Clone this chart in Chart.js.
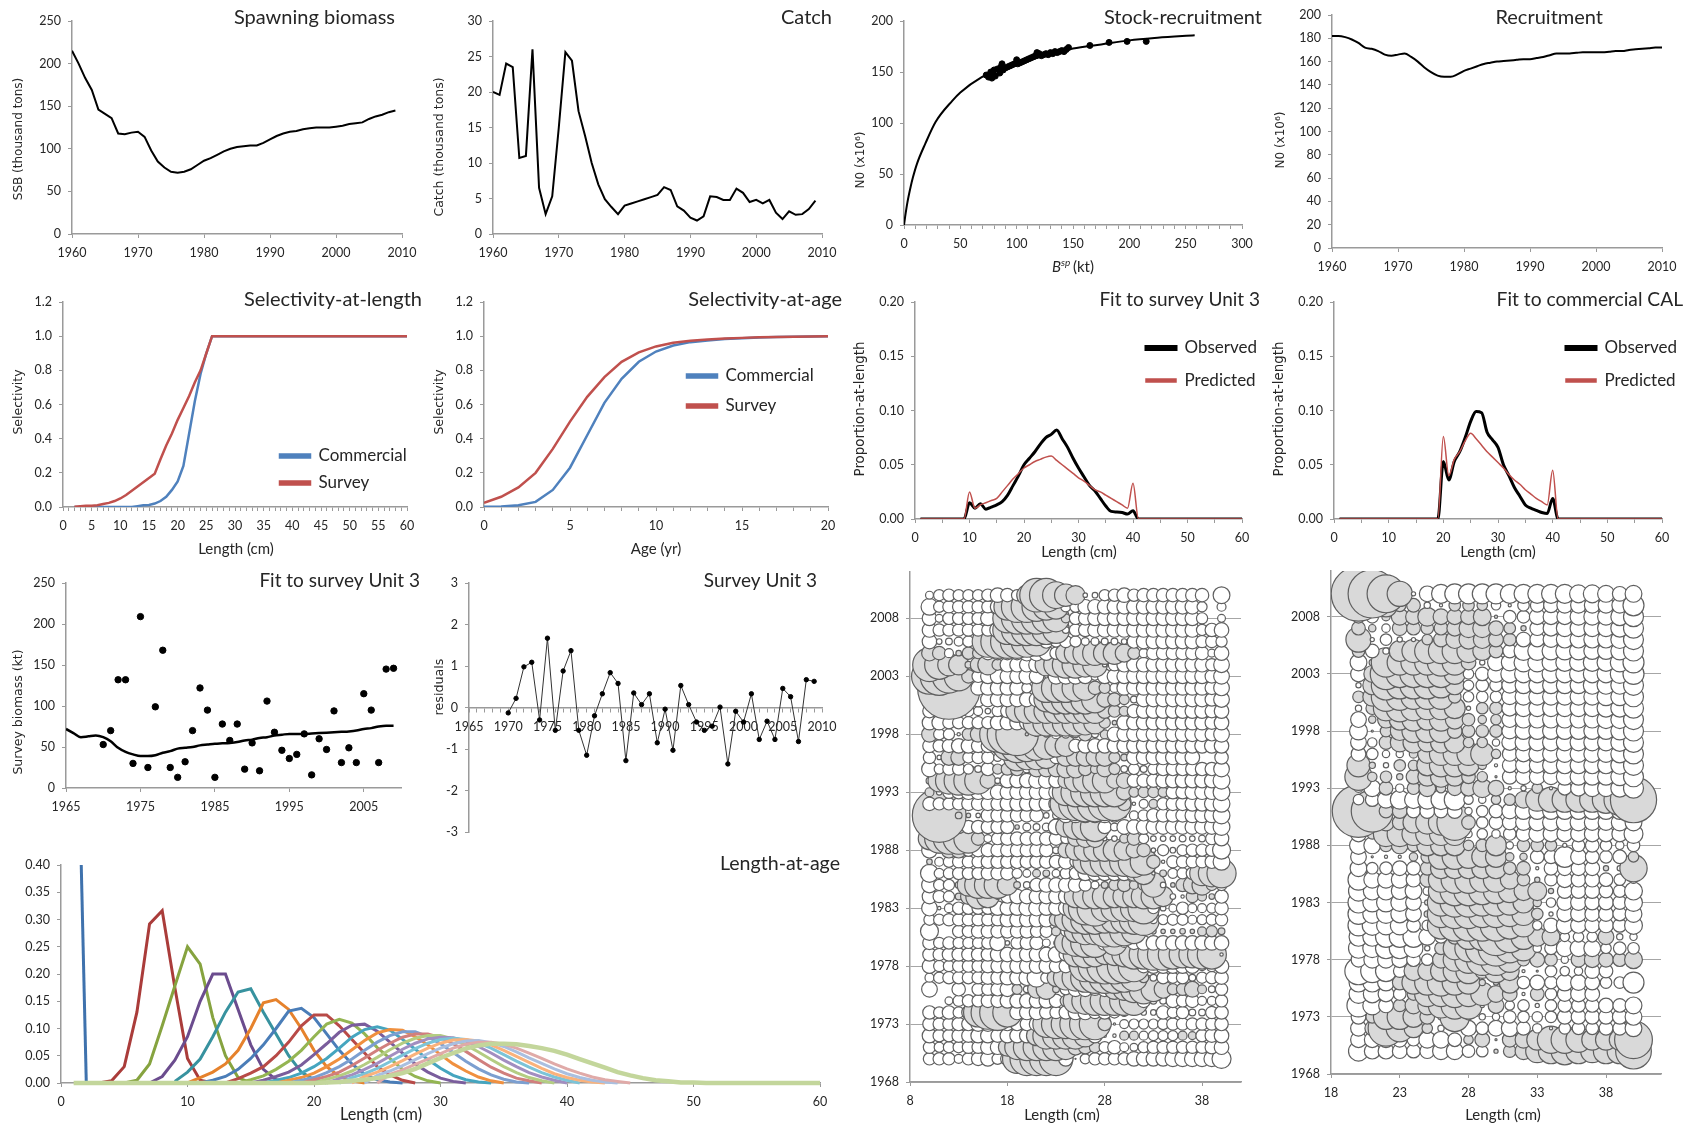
<!DOCTYPE html>
<html>
<head>
<meta charset="utf-8">
<title>Stock assessment panels</title>
<script src="https://cdn.jsdelivr.net/npm/chart.js@4/dist/chart.umd.min.js"></script>
<style>
  html, body { margin: 0; padding: 0; background: #fff; }
  #page { position: relative; width: 1694px; height: 1128px; overflow: hidden; }
  canvas { position: absolute; }
</style>
</head>
<body>
<div id="page"></div>
<script>
/* Values. */
const ssb = [215,200,183,169,146,141,136,118,117,119,120,114,98,85,78,73,72,73,76,81,86,89,93,97,100,102,103,104,104,107,111,115,118,120,121,123,124,125,125,125,126,127,129,130,131,135,138,140,143,145];
const catchKt = [20,19.6,24,23.5,10.7,11,26,6.5,2.8,5.3,15,25.6,24.4,17.3,13.8,10,7,4.9,3.8,2.8,4,4.3,4.6,4.9,5.2,5.5,6.6,6.2,3.9,3.3,2.3,1.9,2.5,5.3,5.2,4.8,4.8,6.4,5.8,4.5,4.8,4.3,4.8,3,2.1,3.2,2.7,2.8,3.5,4.7];
const srCurveX = [0,1,3,6,8,11.5,19,28,43,50,69,75,100,125,150,175,200,225,258];
const srCurveY = [0,8,22,38,47,60,80,101,122,130,145,148,158,166,173,177,181,183.5,186];
const srDotsX = [73,75,76,77,78,79,80,81,83,85,86,87,88,90,92,94,96,98,100,101,103,105,107,109,111,113,115,117,118,119,120,122,124,126,128,130,132,134,136,138,140,142,144,146,165,182,198,215];
const srDotsY = [147,145,146,150,144,148,152,146,153,149,155,158,152,154,155,156,157,158,162,158,159,160,161,162,163,164,165,166,169,167,168,166,167,168,167,169,168,170,169,170,171,170,172,174,176,179,180,180];
const recruits = [182,182,181,179,176,172,171,169,166,165,166,167,164,160,155,151,148,147,147,149,152,154,156,158,159,160,160.5,161,161.5,162,162,163,164,165.5,167,167,167,167.5,168,168,168,168,168.5,169,169,170,170.5,171,171.5,172,172];

const selLenX = [2,3,4,5,6,7,8,9,10,11,12,13,14,15,16,17,18,19,20,21,22,23,24,25,26,60];
const selLenCommercial = [0,0,0,0,0,0,0,0,0,0,0,0.005,0.01,0.012,0.02,0.035,0.06,0.1,0.15,0.24,0.43,0.62,0.78,0.9,1,1];
const selLenSurvey = [0.001,0.005,0.008,0.008,0.01,0.017,0.024,0.035,0.05,0.07,0.095,0.12,0.145,0.17,0.195,0.28,0.36,0.43,0.51,0.58,0.65,0.73,0.8,0.9,1,1];
const selAgeCommercial = [0.002,0.003,0.01,0.03,0.1,0.23,0.42,0.61,0.75,0.85,0.91,0.945,0.965,0.975,0.983,0.988,0.992,0.995,0.997,0.998,1];
const selAgeSurvey = [0.025,0.06,0.115,0.2,0.34,0.5,0.645,0.76,0.85,0.905,0.94,0.962,0.973,0.98,0.986,0.99,0.993,0.995,0.996,0.998,1];

// Proportions from length 9 or 19 up to 41, the rest of the 1-60 range is zero.
const fitX = [1,9,10,11,12,13,14,15,16,17,18,19,20,21,22,23,24,25,26,27,28,29,30,31,32,33,34,35,36,37,38,39,40,41,60];
const surveyObserved = [0,0,0.015,0.01,0.014,0.009,0.011,0.013,0.016,0.022,0.031,0.04,0.05,0.056,0.062,0.069,0.075,0.078,0.082,0.074,0.066,0.056,0.047,0.039,0.031,0.026,0.019,0.012,0.007,0.0065,0.006,0.0045,0.0075,0,0];
const surveyPredicted = [0,0,0.025,0.01,0.013,0.015,0.017,0.019,0.025,0.031,0.037,0.042,0.047,0.05,0.053,0.055,0.057,0.058,0.054,0.05,0.046,0.042,0.038,0.035,0.031,0.027,0.025,0.022,0.019,0.016,0.013,0.01,0.033,0,0];
const calX = [1,19,20,21,22,23,24,25,26,27,28,29,30,31,32,33,34,35,36,37,38,39,40,41,60];
const calObserved = [0,0,0.053,0.036,0.053,0.062,0.075,0.09,0.099,0.098,0.08,0.073,0.066,0.05,0.04,0.029,0.021,0.013,0.01,0.008,0.006,0.005,0.019,0,0];
const calPredicted = [0,0,0.076,0.04,0.055,0.062,0.072,0.079,0.074,0.068,0.062,0.057,0.052,0.047,0.041,0.036,0.032,0.027,0.023,0.019,0.016,0.013,0.045,0,0];

const biomassFit = [72,67,62,63,64,62,57,49,44,41,39,39,40,43,45,48,49,50,52,53,54,54.5,55,56,58,59,61,62,64,65,66,66,66,66.5,67,67.5,68,68.5,69,70,72,73,75,76,76];
const biomassObs = [53,70,132,132,30,209,25,99,168,25,13,32,70,122,95,13,78,58,78,23,55,21,106,68,46,36,41,66,16,60,47,94,31,49,31,115,95,31,145,146];
const residuals = [-0.13,0.22,0.98,1.09,-0.3,1.67,-0.55,0.88,1.37,-0.55,-1.15,-0.2,0.33,0.84,0.58,-1.28,0.35,0.07,0.33,-0.85,-0.04,-1.03,0.53,0.07,-0.35,-0.55,-0.45,0.01,-1.36,-0.09,-0.35,0.33,-0.77,-0.33,-0.77,0.46,0.26,-0.82,0.67,0.63];

// Length-at-age curves, each one starts at the length in lenAgeStart.
const lenAgeStart = [1,3,5,7,9,10,11,13,14,15,16,17,18,19,20,21,22,23,24,25,1];
const lenAge1 = [1,0];
const lenAge2 = [0,0.004,0.03,0.13,0.292,0.316,0.175,0.045,0.005,0];
const lenAge3 = [0,0.005,0.035,0.105,0.178,0.25,0.218,0.12,0.05,0.01,0];
const lenAge4 = [0,0.012,0.042,0.085,0.15,0.2,0.2,0.135,0.07,0.025,0.006,0];
const lenAge5 = [0.003,0.02,0.044,0.085,0.13,0.167,0.173,0.13,0.09,0.05,0.02,0.006,0];
const lenAge6 = [0,0.01,0.02,0.035,0.06,0.1,0.147,0.153,0.135,0.1,0.06,0.03,0.012,0.004,0];
const lenAge7 = [0,0.005,0.012,0.025,0.045,0.07,0.1,0.132,0.137,0.12,0.09,0.06,0.035,0.016,0.006,0.002,0];
const lenAge8 = [0,0.008,0.018,0.03,0.05,0.075,0.105,0.125,0.125,0.105,0.08,0.055,0.03,0.015,0.005,0];
const lenAge9 = [0,0.006,0.013,0.025,0.04,0.06,0.085,0.108,0.117,0.11,0.09,0.065,0.045,0.025,0.012,0.004,0];
const lenAge10 = [0,0.005,0.012,0.02,0.033,0.052,0.072,0.093,0.106,0.108,0.095,0.075,0.055,0.035,0.02,0.009,0.003,0];
const lenAge11 = [0,0.005,0.01,0.018,0.03,0.045,0.064,0.084,0.098,0.103,0.097,0.08,0.062,0.043,0.027,0.014,0.006,0.002,0];
const lenAge12 = [0,0.005,0.01,0.018,0.03,0.044,0.061,0.078,0.092,0.098,0.097,0.085,0.07,0.052,0.035,0.022,0.011,0.004,0];
const lenAge13 = [0,0.005,0.01,0.019,0.03,0.044,0.06,0.075,0.087,0.094,0.094,0.085,0.072,0.056,0.04,0.026,0.015,0.007,0.002,0];
const lenAge14 = [0,0.006,0.012,0.02,0.032,0.046,0.06,0.073,0.084,0.09,0.09,0.083,0.072,0.058,0.043,0.029,0.018,0.009,0.004,0];
const lenAge15 = [0,0.007,0.013,0.022,0.034,0.047,0.061,0.073,0.082,0.087,0.087,0.081,0.07,0.057,0.043,0.03,0.019,0.01,0.004,0];
const lenAge16 = [0,0.008,0.015,0.025,0.036,0.049,0.062,0.073,0.081,0.084,0.083,0.077,0.067,0.055,0.042,0.03,0.019,0.011,0.005,0];
const lenAge17 = [0,0.01,0.017,0.027,0.039,0.051,0.063,0.073,0.08,0.082,0.08,0.073,0.064,0.052,0.04,0.029,0.019,0.011,0.005,0];
const lenAge18 = [0,0.012,0.02,0.03,0.041,0.053,0.064,0.073,0.079,0.08,0.077,0.07,0.06,0.049,0.038,0.027,0.017,0.01,0.005,0.002,0];
const lenAge19 = [0,0.014,0.022,0.032,0.043,0.054,0.064,0.072,0.077,0.078,0.074,0.067,0.057,0.046,0.036,0.026,0.017,0.01,0.005,0.002,0];
const lenAge20 = [0,0.016,0.024,0.034,0.044,0.054,0.064,0.071,0.075,0.075,0.071,0.064,0.055,0.045,0.035,0.026,0.018,0.011,0.006,0.003,0];
const lenAge21 = [0,0,0,0,0,0,0,0,0,0,0,0,0,0,0,0,0,0,0,0,0.001,0.002,0.004,0.006,0.009,0.013,0.018,0.026,0.036,0.046,0.055,0.063,0.069,0.072,0.072,0.071,0.068,0.064,0.059,0.052,0.044,0.036,0.028,0.02,0.014,0.009,0.005,0.003,0.001,0.001,0,0,0,0,0,0,0,0,0,0];

// Bubble panels: one row per year from 2010 down to 1970, lengths 10-40 and 20-40.
// Sign is the residual sign (positive is grey), magnitude is the bubble size.
const bubbleYears = [2010,2009,2008,2007,2006,2005,2004,2003,2002,2001,2000,1999,1998,1997,1996,1995,1994,1993,1992,1991,1990,1989,1988,1987,1986,1985,1984,1983,1982,1981,1980,1979,1978,1977,1976,1975,1974,1973,1972,1971,1970];
const surveyLengths = [10,11,12,13,14,15,16,17,18,19,20,21,22,23,24,25,26,27,28,29,30,31,32,33,34,35,36,37,38,39,40];
const surveyBubbles = [
  [-7,-10,-11,-10,-10,-10,-11,-13,-12,-10,18,30,30,24,20,17,-4,-5,-10,-11,-13,-11,-12,-12,-12,-12,-12,-12,-12,0,-15],
  [-15,-10,-11,-11,-11,-11,-11,-13,24,28,28,26,24,22,-9,-10,-13,-13,-13,-13,-13,-13,-13,-13,-13,-13,-13,-13,-9,0,-8],
  [-13,-7,-11,-11,-11,-11,-13,-5,26,28,28,28,26,24,8,-11,-12,-13,-13,-13,-13,-13,-13,-13,-13,-13,-13,-13,-10,0,-7],
  [-13,-11,-11,-11,-11,-11,-11,-14,26,28,28,28,26,24,-6,-11,-12,-13,-13,-13,-13,-13,-13,-13,-13,-13,-13,-13,-10,-12,-13],
  [-13,-5,-6,-8,-10,-4,28,30,30,30,28,26,-12,-10,-11,-10,-7,-7,-6,-6,-5,-12,-13,-13,-13,-13,-13,-13,-11,-11,-10],
  [14,12,-8,5,11,10,-12,-12,-12,-12,-14,-14,-13,-11,18,20,22,22,20,20,16,11,-8,-12,-12,-12,-12,-12,-12,-7,-13],
  [30,26,20,18,6,14,18,10,-13,-13,-13,-14,20,22,24,24,22,22,-4,-11,-13,-13,-13,-13,-13,-13,-13,-13,-13,-11,-14],
  [32,34,30,26,12,-11,-13,-13,-13,-13,-14,-13,-3,-14,-14,-14,-13,-7,-13,-13,-13,-13,-13,-13,-13,-13,-13,-13,-13,-12,-14],
  [18,26,56,0,0,-13,-13,-13,-13,-13,-9,-3,26,26,26,24,22,12,10,-8,-13,-13,-13,-13,-13,-13,-13,-13,-13,-12,-14],
  [-13,-12,-13,-12,-12,-13,-13,-13,-13,-13,-13,-13,22,26,26,26,26,24,14,12,9,-6,-13,-13,-13,-13,-13,-13,-13,-12,-14],
  [-12,-11,-11,-11,-10,-8,-5,-10,-12,20,22,22,22,22,22,22,22,22,13,11,9,-12,-13,-13,-13,-13,-13,-13,-13,-12,-13],
  [-13,-13,-11,-11,-11,-11,-11,-13,-13,-13,-13,24,24,24,24,24,22,20,10,4,-13,-13,-13,-13,-13,-13,-13,-13,-13,-12,-13],
  [14,-10,-10,-3,11,14,6,32,36,38,3,4,-5,-8,-7,-6,12,-6,8,-13,-13,-13,-13,-13,-13,-13,-13,-13,-13,-12,-14],
  [-12,-11,-12,-13,-13,-12,-12,-14,26,30,28,26,24,20,19,-12,-13,-13,-13,-13,-13,-13,-13,-13,-13,-13,-13,-13,-13,-13,-13],
  [-11,-4,14,14,-10,-11,-11,-7,-6,24,22,22,20,-11,16,16,16,16,16,10,6,-13,-13,-13,-13,-13,-13,-13,0,0,-12],
  [-14,-9,-11,-11,-9,-6,-12,9,11,12,-7,14,14,14,16,16,12,8,14,10,-6,-10,-6,-10,-12,-12,-12,-12,-12,-12,-14],
  [-6,20,24,26,26,24,14,-5,-13,-13,-13,-14,-14,-13,14,20,22,22,22,14,14,-12,-12,-12,-13,-13,-13,-13,-13,-13,-15],
  [8,-5,-11,-12,-13,-13,-13,-13,-13,-13,-13,-13,-13,-13,24,26,26,26,26,26,14,9,10,10,9,-12,-12,-13,-13,-13,-15],
  [-12,-11,-11,-11,-12,-12,-12,-12,-13,-13,-13,-13,-13,-13,28,30,32,32,30,30,12,-3,-8,8,-11,-12,-12,-13,-13,-13,-15],
  [30,48,0,6,4,-4,-12,-12,-12,-12,-12,-12,-5,-6,-13,-13,-13,-13,-13,-12,-4,-8,-10,-12,-12,-12,-12,-13,-13,-13,-15],
  [-13,-12,-12,-12,-12,-12,-12,-12,-12,4,-7,-6,-7,-14,18,22,24,26,-12,-7,-13,-13,-13,-13,-13,-13,-13,-13,-13,-13,-15],
  [20,26,28,28,26,12,-7,-11,-12,-12,-12,-12,-12,-12,-9,14,16,16,-4,-5,8,12,-9,-5,-5,-5,-6,-5,-6,-11,-13],
  [-14,-5,14,14,-11,-12,-12,-12,-12,-12,-12,-12,-12,-6,14,18,20,20,20,20,18,14,12,-4,-10,-5,-10,-11,-11,-11,-16],
  [5,-8,-10,-11,-11,-11,-12,-12,-12,-12,-12,-12,-12,-12,-13,-10,22,26,26,26,26,28,24,12,-3,-11,-11,-11,-11,-12,-15],
  [-16,-9,-10,-11,-11,-11,-12,-12,-12,-9,-7,7,6,-7,-10,-11,-13,-13,-13,-13,-13,14,20,-3,6,-9,-10,-11,22,24,26],
  [-14,-10,-10,-6,20,24,24,24,18,6,-6,-12,-13,-13,-13,-13,-11,-7,6,10,12,8,10,22,-5,4,12,16,18,10,-10],
  [-13,-11,-10,6,14,22,20,5,-12,-13,-13,-13,-13,-13,-13,20,22,22,22,20,20,20,22,22,18,-5,-3,11,8,5,-12],
  [-14,-3,-8,-11,-11,-11,-11,-13,-13,-13,-14,-14,-13,-13,-13,22,30,32,24,24,24,24,28,-10,-5,-7,-11,-8,-8,-9,-12],
  [-10,-10,-11,-11,-11,-11,-11,-11,-13,-13,-13,-13,-13,12,20,24,26,26,24,24,24,26,28,-7,-9,-10,-10,-8,-9,-10,-11],
  [-16,0,0,-11,-11,-12,-12,-12,-12,-12,-12,-11,-11,8,-9,20,24,24,28,28,26,22,-6,5,4,4,5,4,8,10,6],
  [-12,-10,-11,-10,-10,-10,-11,-14,-4,-11,-12,-12,-7,-4,20,24,26,26,-13,22,-8,-12,-13,-13,-13,-13,-13,-13,-13,-13,-13],
  [-12,-11,-12,-12,-12,-12,-12,-13,-13,-13,-13,-13,-13,-14,-12,22,24,22,18,20,22,26,26,28,28,26,24,24,26,26,-3],
  [-13,-10,-10,-11,-11,-11,-12,-12,-12,-13,-13,-13,-13,-12,-12,-12,28,30,32,32,30,28,-12,-13,-13,-13,-13,-13,-8,-10,-13],
  [-8,-10,-11,-11,-11,-11,-12,-12,-13,-13,-14,-17,-10,16,22,24,26,28,28,28,26,24,9,-6,-11,-10,-11,-6,-10,-11,-12],
  [-14,0,0,-12,0,-11,-11,-12,-13,9,-6,16,18,6,-10,-13,-13,-11,-13,18,20,24,26,22,16,10,11,14,8,-6,-11],
  [0,0,-7,-10,-11,-11,-12,-12,-13,-13,-13,-13,-13,-12,10,22,24,26,26,26,26,26,-12,-6,-6,-12,-11,-12,-8,-8,-11],
  [-12,-10,-12,-10,12,26,30,32,26,-13,-13,-13,-12,-11,-12,-13,-13,-11,-12,-10,-7,-5,-5,-5,-12,-10,-11,-6,-6,-11,-12],
  [-12,-11,-11,-12,-12,-13,-13,-12,-12,-12,-12,-13,24,26,26,28,28,28,12,-2,-8,-9,-9,-9,-10,-11,-11,-11,-11,-11,-12],
  [-13,-11,-11,-12,-12,-13,-13,-12,-13,-13,-13,18,24,24,24,24,20,-13,-3,-3,8,8,-8,-9,-9,-9,8,7,-11,-12,-13],
  [-11,-9,-10,-10,-11,-11,-13,-13,16,22,24,24,24,24,22,14,12,10,-10,-12,-8,-7,-10,-11,-11,-11,-11,-11,-11,-12,-13],
  [-11,-11,-11,-8,-11,-12,-13,-10,-12,26,30,30,30,30,-13,-1,-9,-11,-11,-11,-11,-13,-13,-13,-13,-14,-14,-14,-14,-14,-17]
];
const commercialLengths = [20,21,22,23,24,25,26,27,28,29,30,31,32,33,34,35,36,37,38,39,40];
const commercialBubbles = [
  [52,46,36,24,-4,-15,-18,-19,-19,-19,-19,-18,-18,-18,-18,-18,-17,-17,-16,-14,-16],
  [20,20,22,12,13,-6,-3,11,11,10,-9,-3,-11,-13,-14,-15,-15,-15,-15,-15,-20],
  [12,-12,8,16,15,18,15,15,15,17,3,-12,-12,-15,-15,-15,-16,-16,-16,-17,-19],
  [13,7,-8,14,13,12,13,15,18,18,14,11,5,-14,-15,-16,-16,-16,-16,-17,-19],
  [24,-4,-11,-5,-4,10,14,17,18,17,14,12,-14,-14,-15,-16,-16,-16,-16,-17,-19],
  [12,-13,-6,20,22,24,24,24,22,18,13,-13,-18,-18,-17,-17,-17,-16,-16,-17,-19],
  [-16,6,28,24,24,24,26,24,14,-5,-16,-16,-18,-18,-17,-17,-17,-17,-17,-18,-20],
  [-15,16,30,26,26,26,26,20,-10,-13,-16,-17,-17,-17,-17,-17,-17,-17,-17,-18,-20],
  [-5,18,28,26,26,26,24,18,-10,-12,-12,-15,-16,-16,-16,-16,-16,-17,-17,-17,-19],
  [11,18,28,26,24,24,24,12,-10,-11,-11,-15,-16,-16,-16,-16,-16,-16,-17,-17,-19],
  [-6,12,24,26,24,22,22,20,-4,11,12,-15,-16,-16,-16,-16,-16,-16,-17,-17,-19],
  [-15,7,16,20,22,20,22,18,12,8,10,-15,-16,-16,-16,-16,-16,-16,-17,-17,-19],
  [-17,-2,11,18,22,22,22,14,12,12,12,-15,-16,-16,-16,-16,-16,-16,-16,-17,-19],
  [-15,-9,13,18,20,18,20,20,10,10,-7,-15,-16,-16,-16,-16,-16,-16,-16,-17,-19],
  [-14,-11,-7,-7,8,18,22,22,22,22,9,-14,-15,-16,-16,-16,-16,-16,-16,-17,-19],
  [22,6,-5,11,10,20,22,22,20,8,-3,-14,-15,-15,-16,-16,-16,-16,-16,-17,-19],
  [26,9,11,6,14,18,20,18,13,10,-2,-14,-15,-15,-15,-16,-16,-16,-16,-17,-19],
  [-8,-16,13,-8,12,16,9,14,15,18,15,-3,-5,10,-3,-13,-15,-16,-16,-17,-19],
  [-10,-13,-16,-18,-17,-18,-19,-20,-9,-7,9,11,16,22,24,24,24,24,26,30,44],
  [50,40,13,14,-13,-14,-13,-14,-7,-11,-13,-15,-16,-16,-16,-16,-16,-16,-16,-16,-16],
  [-12,-8,16,14,20,22,24,34,13,-11,-13,-14,-15,-16,-16,-16,-16,-15,-15,-16,-16],
  [-15,10,24,24,22,22,22,22,-7,-10,-8,-12,-14,-16,-15,-15,-15,-15,-15,-15,-18],
  [-17,-16,12,16,12,20,20,20,10,12,20,-7,12,12,11,-4,-12,-13,-11,-8,-12],
  [-15,-2,-3,-3,8,12,24,24,22,20,20,8,7,-13,-13,-20,-15,-13,-12,-13,10],
  [-16,-11,-12,-14,-13,13,20,20,20,20,20,12,13,-3,-13,-14,-14,-14,5,-5,26],
  [-20,-16,-16,-16,-14,14,24,26,26,24,24,18,12,5,-12,-15,-14,-14,-13,-11,-7],
  [-19,-17,-17,-16,-16,-8,24,28,28,26,24,22,18,18,5,-14,-14,-14,-13,-12,-17],
  [-20,-18,-18,-17,-15,-5,26,28,28,26,26,24,20,8,-9,-15,-15,-14,-14,-13,-17],
  [-20,-18,-18,-17,-15,6,26,28,28,26,26,24,22,11,-4,-15,-15,-14,-14,-13,-16],
  [-20,-19,-18,-18,-13,-10,26,30,30,30,30,26,22,-9,-14,-16,-15,-14,-14,-13,-17],
  [-18,-18,-20,-20,-20,-16,-12,14,24,26,36,30,24,18,17,-9,-10,-10,15,-6,-7],
  [-19,-18,-20,-20,-18,-5,12,22,26,32,34,28,24,-8,-12,-16,-16,-16,-10,-12,-11],
  [-14,-16,-16,-15,-13,-11,16,22,26,30,30,24,12,14,12,-7,14,15,14,13,17],
  [-26,-22,-20,-12,18,18,20,22,24,14,22,18,-3,-2,-11,-9,-8,-14,-13,0,0],
  [-18,-18,-16,14,22,24,26,24,22,6,5,20,-12,-14,-12,-16,-15,-14,-11,-11,-20],
  [-18,-17,-15,-12,12,24,24,26,24,22,16,14,-3,13,-11,-14,-15,-14,0,0,0],
  [-22,-18,-14,12,16,18,24,26,26,-4,15,-9,-11,-4,-11,-13,-13,-13,-14,-13,-16],
  [-14,12,24,24,20,14,-6,28,6,-6,-7,-12,-11,-10,-11,-14,-14,-14,-14,-14,-16],
  [-15,14,34,26,18,10,-6,-5,-15,-12,-15,-16,-13,-9,-3,-11,-12,-12,-13,-13,-16],
  [-15,-15,-15,-14,-12,-16,-16,-13,9,14,-2,14,16,20,26,26,24,20,20,20,36],
  [-19,-15,-15,-14,-13,-14,-16,-16,-12,-11,4,12,16,22,24,26,24,22,24,24,34]
];

// Tick labels.
const decadeTicks = [1960,1970,1980,1990,2000,2010];
const ssbTicks = [0,50,100,150,200,250];
const catchTicks = [0,5,10,15,20,25,30];
const srXTicks = [0,50,100,150,200,250,300];
const srYTicks = [0,50,100,150,200];
const recTicks = [0,20,40,60,80,100,120,140,160,180,200];
const selYTicks = [0,0.2,0.4,0.6,0.8,1,1.2];
const selLenTicks = [0,5,10,15,20,25,30,35,40,45,50,55,60];
const selAgeTicks = [0,5,10,15,20];
const propTicks = [0,0.05,0.1,0.15,0.2];
const fitLenTicks = [0,10,20,30,40,50,60];
const biomassXTicks = [1965,1975,1985,1995,2005];
const biomassYTicks = [0,50,100,150,200,250];
const residXTicks = [1965,1970,1975,1980,1985,1990,1995,2000,2005,2010];
const residYTicks = [-3,-2,-1,0,1,2,3];
const lenAgeYTicks = [0,0.05,0.1,0.15,0.2,0.25,0.3,0.35,0.4];
const surveyXTicks = [8,18,28,38];
const commercialXTicks = [18,23,28,33,38];
const bubbleYTicks = [1968,1973,1978,1983,1988,1993,1998,2003,2008];

const lenAgeColors = ["#3f72ad","#aa3c3a","#86a33f","#6b4c8e","#37929f","#e6822c","#4a7db8","#b84a47","#94b552","#7a5d9c","#45a5bf","#f0903f","#7c9fd0","#d17f7d","#b4cd82","#a28ec0","#7cc4d8","#fab27c","#a9bfe0","#e0aaa8","#c3d69b"];

const AXIS = "#9a9a9a";
const TEXT = "#262626";
const FONT = "Lato, sans-serif";
Chart.defaults.font.family = FONT;

function seq(a, b, step) {
    var out = [];
    for (var v = a; v <= b + 1e-9; v += step || 1) out.push(v);
    return out;
}

function pairs(xs, ys) {
    return ys.map(function (y, i) {
        return { x: xs[i], y: y };
    });
}

function makeAxis(major, opts) {
    opts = opts || {};
    var values = opts.minor ? seq(opts.min, opts.max, opts.minor) : major;
    return {
        type: "linear",
        min: opts.min,
        max: opts.max,
        position: opts.position,
        grid: {
            drawOnChartArea: !!opts.lines,
            color: "#a6a6a6",
            tickLength: 4,
            tickColor: AXIS,
        },
        border: { color: AXIS, width: 1.5 },
        ticks: {
            autoSkip: false,
            maxRotation: 0,
            minRotation: 0,
            padding: opts.pad || 7,
            color: TEXT,
            font: { size: 12.5 },
            callback: function (v) {
                if (major.indexOf(v) < 0) return "";
                return opts.decimals ? v.toFixed(opts.decimals) : String(v);
            },
        },
        afterBuildTicks: function (s) {
            s.ticks = values.map(function (v) {
                return { value: v };
            });
        },
        afterFit: function (s) {
            if (s.axis === "x") s.height = 50;
            else s.width = 70;
        },
    };
}

// One chart per panel, the canvas is placed so the plot area lands on box.
function makePanel(box, datasets, xAxis, yAxis, texts, legendAt, type) {
    var canvas = document.createElement("canvas");
    var canvasLeft = box[0] - 70;
    var canvasTop = box[1] - 25;
    canvas.width = box[2] - box[0] + 100;
    canvas.height = box[3] - box[1] + 75;
    canvas.style.left = canvasLeft + "px";
    canvas.style.top = canvasTop + "px";
    document.getElementById("page").appendChild(canvas);

    // A later dataset goes on top, as in the picture.
    datasets.forEach(function (d, i) {
        d.order = datasets.length - i;
    });

    var panelText = {
        id: "panelText",
        afterLayout: function (chart) {
            if (!legendAt) return;
            // Legend sits inside the plot at the spot it has in the picture.
            var pad = legendAt.gap;
            var lg = chart.legend;
            lg.left = legendAt.x - canvasLeft - pad;
            lg.right = lg.left + 200;
            lg.top = legendAt.y - canvasTop - pad - 8.5;
            lg.bottom = lg.top + 200;
        },
        afterDraw: function (chart) {
            var ctx = chart.ctx;
            texts.forEach(function (t) {
                ctx.save();
                ctx.translate(t.x - canvasLeft, t.y - canvasTop);
                if (t.rot) ctx.rotate((-90 * Math.PI) / 180);
                ctx.font = (t.italic ? "italic " : "") + t.size + "px " + (t.family || FONT);
                ctx.fillStyle = TEXT;
                ctx.textAlign = t.align || "center";
                ctx.textBaseline = "middle";
                ctx.fillText(t.text, 0, 0);
                ctx.restore();
            });
        },
    };

    new Chart(canvas, {
        type: type || "scatter",
        data: { datasets: datasets },
        options: {
            responsive: false,
            animation: false,
            events: [],
            layout: {
                autoPadding: false,
                // An axis crossing inside the plot takes no room of its own.
                padding: { top: 25, right: 30, bottom: typeof xAxis.position === "object" ? 50 : 0 },
            },
            plugins: {
                tooltip: { enabled: false },
                legend: legendAt
                    ? {
                          display: true,
                          position: "chartArea",
                          align: "start",
                          labels: {
                              boxWidth: 30,
                              boxHeight: 3,
                              padding: legendAt.gap,
                              color: TEXT,
                              font: { size: 17 },
                              sort: function (a, b) {
                                  return a.datasetIndex - b.datasetIndex;
                              },
                          },
                      }
                    : { display: false },
            },
            scales: { x: xAxis, y: yAxis },
        },
        plugins: [panelText],
    });
}

function lineSet(xs, ys, color, width, label, smooth) {
    return {
        label: label,
        data: pairs(xs, ys),
        showLine: true,
        borderColor: color,
        backgroundColor: color,
        borderWidth: width,
        pointRadius: 0,
        tension: 0,
        cubicInterpolationMode: smooth ? "monotone" : "default",
    };
}

function dotSet(xs, ys, color, radius) {
    return {
        data: pairs(xs, ys),
        showLine: false,
        backgroundColor: color,
        borderColor: color,
        pointRadius: radius,
    };
}

// Earliest year is drawn first and each row runs left to right, later ones overlap.
function bubbleSet(rows, lengths, sizeScale) {
    var points = [];
    for (var i = rows.length - 1; i >= 0; i--) {
        rows[i].forEach(function (v, j) {
            points.push({ x: lengths[j], y: bubbleYears[i], r: (Math.abs(v) / 2) * sizeScale, v: v });
        });
    }
    return {
        data: points,
        clip: 0,
        borderColor: "#5f5f5f",
        borderWidth: 1.2,
        backgroundColor: points.map(function (p) {
            return p.v > 0 ? "#d9d9d9" : "#ffffff";
        }),
    };
}

function title(text, right, y, size) {
    return { text: text, x: right, y: y, size: size || 20, align: "right" };
}
function yTitle(text, x, y, size) {
    return { text: text, x: x, y: y, size: size, rot: true, family: "'DejaVu Sans', sans-serif" };
}
function xTitle(text, x, y, size) {
    return { text: text, x: x, y: y, size: size || 15 };
}

var years = seq(1960, 2010);
var ages = seq(0, 20);
var BLUE = "#4f81bd";
var RED = "#c0504d";
var BLACK = "#000000";

makePanel([72, 21, 402, 234],
    [lineSet(years, ssb, BLACK, 2)],
    makeAxis(decadeTicks, { min: 1960, max: 2010 }),
    makeAxis(ssbTicks, { min: 0, max: 250 }),
    [title("Spawning biomass", 395, 18), yTitle("SSB (thousand tons)", 19, 139, 12)]);

makePanel([493, 21, 822, 234],
    [lineSet(years, catchKt, BLACK, 2)],
    makeAxis(decadeTicks, { min: 1960, max: 2010 }),
    makeAxis(catchTicks, { min: 0, max: 30 }),
    [title("Catch", 832, 18), yTitle("Catch (thousand tons)", 440, 147, 12.5)]);

makePanel([904, 21, 1242, 225],
    [dotSet(srDotsX, srDotsY, BLACK, 3), lineSet(srCurveX, srCurveY, BLACK, 2, undefined, true)],
    makeAxis(srXTicks, { min: 0, max: 300, minor: 10 }),
    makeAxis(srYTicks, { min: 0, max: 200 }),
    [
        title("Stock-recruitment", 1262, 18),
        yTitle("N0 (x10\u2076)", 861, 160, 12),
        { text: "B", x: 1052, y: 267, size: 15, italic: true, align: "left" },
        { text: "sp", x: 1061, y: 263, size: 10, italic: true, align: "left" },
        { text: "(kt)", x: 1073, y: 267, size: 15, align: "left" },
    ]);

makePanel([1332, 15, 1662, 248],
    [lineSet(years, recruits, BLACK, 2, undefined, true)],
    makeAxis(decadeTicks, { min: 1960, max: 2010 }),
    makeAxis(recTicks, { min: 0, max: 200 }),
    [title("Recruitment", 1603, 18), yTitle("N0 (x10\u2076)", 1281, 140, 12)]);

makePanel([63, 302, 407, 507],
    [lineSet(selLenX, selLenCommercial, BLUE, 2.5, "Commercial"), lineSet(selLenX, selLenSurvey, RED, 2.5, "Survey")],
    makeAxis(selLenTicks, { min: 0, max: 60, minor: 1 }),
    makeAxis(selYTicks, { min: 0, max: 1.2, decimals: 1 }),
    [title("Selectivity-at-length", 422, 300), yTitle("Selectivity", 19, 402, 12.5), xTitle("Length (cm)", 236, 549)],
    { x: 280, y: 456, gap: 10 });

makePanel([484, 302, 828, 507],
    [lineSet(ages, selAgeCommercial, BLUE, 2.5, "Commercial"), lineSet(ages, selAgeSurvey, RED, 2.5, "Survey")],
    makeAxis(selAgeTicks, { min: 0, max: 20, minor: 1 }),
    makeAxis(selYTicks, { min: 0, max: 1.2, decimals: 1 }),
    [title("Selectivity-at-age", 842, 300), yTitle("Selectivity", 440, 402, 12.5), xTitle("Age (yr)", 656, 549)],
    { x: 687, y: 376, gap: 13 });

makePanel([915, 302, 1242, 519],
    [lineSet(fitX, surveyObserved, BLACK, 3, "Observed", true), lineSet(fitX, surveyPredicted, RED, 1.5, "Predicted", true)],
    makeAxis(fitLenTicks, { min: 0, max: 60, minor: 5 }),
    makeAxis(propTicks, { min: 0, max: 0.2, decimals: 2 }),
    [title("Fit to survey Unit 3", 1260, 300, 19), yTitle("Proportion-at-length", 861, 409, 13.4), xTitle("Length (cm)", 1079, 552)],
    { x: 1146, y: 348, gap: 15.4 });

makePanel([1334, 302, 1662, 519],
    [lineSet(calX, calObserved, BLACK, 3, "Observed", true), lineSet(calX, calPredicted, RED, 1.5, "Predicted", true)],
    makeAxis(fitLenTicks, { min: 0, max: 60, minor: 5 }),
    makeAxis(propTicks, { min: 0, max: 0.2, decimals: 2 }),
    [title("Fit to commercial CAL", 1683, 300, 19.2), yTitle("Proportion-at-length", 1280, 409, 13.4), xTitle("Length (cm)", 1498, 552)],
    { x: 1566, y: 348, gap: 15.4 });

makePanel([66, 583, 401, 788],
    [lineSet(seq(1965, 2009), biomassFit, BLACK, 2.5, undefined, true), dotSet(seq(1970, 2009), biomassObs, BLACK, 3.2)],
    makeAxis(biomassXTicks, { min: 1965, max: 2010 }),
    makeAxis(biomassYTicks, { min: 0, max: 250 }),
    [title("Fit to survey Unit 3", 420, 581, 19), yTitle("Survey biomass (kt)", 19, 712, 12.5)]);

makePanel([469, 583, 822, 832],
    [lineSet(seq(1970, 2009), residuals, "#333333", 1), dotSet(seq(1970, 2009), residuals, BLACK, 2.2)],
    makeAxis(residXTicks, { min: 1965, max: 2010, minor: 1, position: { y: 0 }, pad: 8 }),
    makeAxis(residYTicks, { min: -3, max: 3 }),
    [title("Survey Unit 3", 817, 581, 19), yTitle("residuals", 440, 687, 12.7)]);

var lenAgeRows = [lenAge1,lenAge2,lenAge3,lenAge4,lenAge5,lenAge6,lenAge7,lenAge8,lenAge9,lenAge10,lenAge11,lenAge12,lenAge13,lenAge14,lenAge15,lenAge16,lenAge17,lenAge18,lenAge19,lenAge20,lenAge21];
makePanel([61, 865, 820, 1083],
    lenAgeRows.map(function (row, i) {
        var xs = row.map(function (_, j) { return lenAgeStart[i] + j; });
        var last = i === lenAgeRows.length - 1;
        var set = lineSet(xs, row, lenAgeColors[i], last ? 4.5 : 3);
        // The 0.40 top cuts the first curve, the zero line stays whole.
        set.clip = { top: 0, left: 4, right: 4, bottom: 4 };
        return set;
    }),
    makeAxis(fitLenTicks, { min: 0, max: 60 }),
    makeAxis(lenAgeYTicks, { min: 0, max: 0.4, decimals: 2 }),
    [title("Length-at-age", 840, 864, 19.6), xTitle("Length (cm)", 381, 1115, 16.3)]);

makePanel([910, 572, 1241, 1082],
    [bubbleSet(surveyBubbles, surveyLengths, 1.12)],
    makeAxis(surveyXTicks, { min: 8, max: 42 }),
    makeAxis(bubbleYTicks, { min: 1968, max: 2012, lines: true }),
    [xTitle("Length (cm)", 1062, 1115)], null, "bubble");

makePanel([1331, 571, 1661, 1074],
    [bubbleSet(commercialBubbles, commercialLengths, 1.05)],
    makeAxis(commercialXTicks, { min: 18, max: 42 }),
    makeAxis(bubbleYTicks, { min: 1968, max: 2012, lines: true }),
    [xTitle("Length (cm)", 1503, 1115)], null, "bubble");
</script>
</body>
</html>
